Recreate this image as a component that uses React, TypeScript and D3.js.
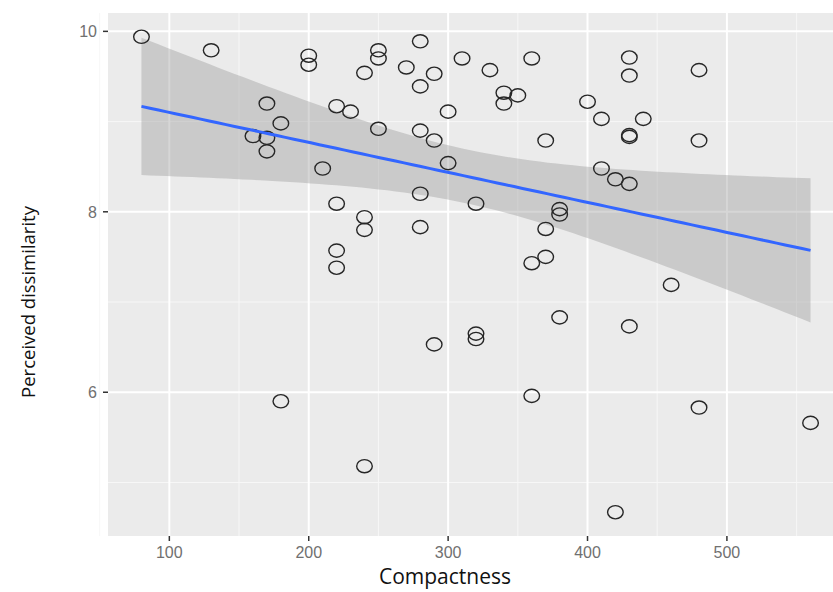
import { useEffect, useRef } from 'react';
import * as d3 from 'd3';

// compactness of each stimulus (x) and its perceived dissimilarity (y)
const compactness = [
  80, 130, 160, 170, 170, 170, 180, 180, 200, 200,
  210, 220, 220, 220, 220, 230, 240, 240, 240, 240,
  250, 250, 250, 270, 280, 280, 280, 280, 280, 290,
  290, 290, 300, 300, 310, 320, 320, 320, 330, 340,
  340, 350, 360, 360, 360, 370, 370, 370, 380, 380,
  380, 400, 410, 410, 420, 420, 430, 430, 430, 430,
  430, 430, 440, 460, 480, 480, 480, 560,
];
const dissimilarity = [
  9.94, 9.79, 8.84, 9.2, 8.82, 8.67, 8.98, 5.9, 9.73, 9.63,
  8.48, 9.17, 8.09, 7.57, 7.38, 9.11, 9.54, 7.94, 7.8, 5.18,
  9.79, 9.7, 8.92, 9.6, 9.89, 9.39, 8.9, 8.2, 7.83, 9.53,
  8.79, 6.53, 9.11, 8.54, 9.7, 8.09, 6.65, 6.59, 9.57, 9.32,
  9.2, 9.29, 9.7, 7.43, 5.96, 8.79, 7.81, 7.5, 8.03, 7.97,
  6.83, 9.22, 9.03, 8.48, 8.36, 4.67, 9.71, 9.51, 8.85, 8.83,
  8.31, 6.73, 9.03, 7.19, 9.57, 8.79, 5.83, 5.66,
];
const xTicks = [100, 200, 300, 400, 500];
const yTicks = [6, 8, 10];

const W = 833;
const H = 592;
const margin = { top: 13, left: 108, bottom: 56 };
const panelRight = 844; // panel runs past the right edge in the reference

function App() {
  const svgRef = useRef<SVGSVGElement>(null);

  useEffect(() => {
    const svg = d3.select(svgRef.current);
    svg.selectAll('*').remove();

    const pts = compactness.map((x, i) => ({ x, y: dissimilarity[i] }));

    // ggplot style 5% expansion
    const [x0, x1] = d3.extent(compactness) as [number, number];
    const [y0, y1] = d3.extent(dissimilarity) as [number, number];
    const dx = (x1 - x0) * 0.05;
    const dy = (y1 - y0) * 0.05;

    const x = d3.scaleLinear().domain([x0 - dx, x1 + dx]).range([margin.left, panelRight]);
    const y = d3.scaleLinear().domain([y0 - dy, y1 + dy]).range([H - margin.bottom, margin.top]);

    // linear fit with 95% confidence band (like geom_smooth(method = "lm"))
    const n = pts.length;
    const mx = d3.mean(compactness)!;
    const my = d3.mean(dissimilarity)!;
    const sxx = d3.sum(pts, d => (d.x - mx) ** 2);
    const sxy = d3.sum(pts, d => (d.x - mx) * (d.y - my));
    const b = sxy / sxx;
    const a = my - b * mx;
    const s = Math.sqrt(d3.sum(pts, d => (d.y - a - b * d.x) ** 2) / (n - 2));
    const t = 1.997;
    const grid = d3.range(80).map(i => x0 + (i * (x1 - x0)) / 79);
    const fit = grid.map(gx => {
      const yh = a + b * gx;
      const se = s * Math.sqrt(1 / n + (gx - mx) ** 2 / sxx);
      return { x: gx, y: yh, lo: yh - t * se, hi: yh + t * se };
    });

    const top = margin.top;
    const bottom = H - margin.bottom;

    svg.append('rect')
      .attr('x', margin.left).attr('y', top)
      .attr('width', panelRight - margin.left).attr('height', bottom - top)
      .attr('fill', '#EBEBEB');

    // minor grid
    const xMinor = xTicks.map(v => v - 50).concat([xTicks[xTicks.length - 1] + 50]);
    const yMinor = [5, 7, 9];
    svg.append('g').selectAll('line').data(xMinor).enter().append('line')
      .attr('x1', d => x(d)).attr('x2', d => x(d)).attr('y1', top).attr('y2', bottom)
      .attr('stroke', '#F7F7F7').attr('stroke-width', 1);
    svg.append('g').selectAll('line').data(yMinor).enter().append('line')
      .attr('x1', margin.left).attr('x2', panelRight).attr('y1', d => y(d)).attr('y2', d => y(d))
      .attr('stroke', '#F7F7F7').attr('stroke-width', 1);

    // major grid
    svg.append('g').selectAll('line').data(xTicks).enter().append('line')
      .attr('x1', d => x(d)).attr('x2', d => x(d)).attr('y1', top).attr('y2', bottom)
      .attr('stroke', '#FFFFFF').attr('stroke-width', 2);
    svg.append('g').selectAll('line').data(yTicks).enter().append('line')
      .attr('x1', margin.left).attr('x2', panelRight).attr('y1', d => y(d)).attr('y2', d => y(d))
      .attr('stroke', '#FFFFFF').attr('stroke-width', 2);

    // band
    const area = d3.area<{ x: number; lo: number; hi: number }>()
      .x(d => x(d.x)).y0(d => y(d.lo)).y1(d => y(d.hi));
    svg.append('path').datum(fit).attr('d', area)
      .attr('fill', '#999999').attr('fill-opacity', 0.4);

    // points
    svg.append('g').selectAll('ellipse').data(pts).enter().append('ellipse')
      .attr('cx', d => x(d.x)).attr('cy', d => y(d.y))
      .attr('rx', 7.8).attr('ry', 6.6)
      .attr('fill', 'none').attr('stroke', '#262626').attr('stroke-width', 1.4);

    // fitted line
    const line = d3.line<{ x: number; y: number }>().x(d => x(d.x)).y(d => y(d.y));
    svg.append('path').datum(fit).attr('d', line)
      .attr('fill', 'none').attr('stroke', '#3366FF').attr('stroke-width', 3);

    // axes
    const tickFont = '"Liberation Sans", Arial, sans-serif';
    const xAxis = svg.append('g');
    xAxis.selectAll('line').data(xTicks).enter().append('line')
      .attr('x1', d => x(d)).attr('x2', d => x(d)).attr('y1', bottom).attr('y2', bottom + 5)
      .attr('stroke', '#333333').attr('stroke-width', 1.5);
    xAxis.selectAll('text').data(xTicks).enter().append('text')
      .attr('x', d => x(d)).attr('y', bottom + 22)
      .attr('text-anchor', 'middle').attr('font-family', tickFont)
      .attr('font-size', 16).attr('fill', '#707070').text(d => d);

    const yAxis = svg.append('g');
    yAxis.selectAll('line').data(yTicks).enter().append('line')
      .attr('x1', margin.left - 5).attr('x2', margin.left).attr('y1', d => y(d)).attr('y2', d => y(d))
      .attr('stroke', '#333333').attr('stroke-width', 1.5);
    yAxis.selectAll('text').data(yTicks).enter().append('text')
      .attr('x', margin.left - 11).attr('y', d => y(d) + 6)
      .attr('text-anchor', 'end').attr('font-family', tickFont)
      .attr('font-size', 16).attr('fill', '#707070').text(d => d);

    svg.append('text')
      .attr('x', 445).attr('y', 584)
      .attr('text-anchor', 'middle').attr('font-family', '"Open Sans", sans-serif')
      .attr('font-size', 21).attr('fill', '#111111').text('Compactness');

    svg.append('text')
      .attr('transform', 'translate(35,302) rotate(-90)')
      .attr('text-anchor', 'middle').attr('font-family', '"Open Sans", sans-serif')
      .attr('font-size', 18.5).attr('fill', '#111111').text('Perceived dissimilarity');
  }, []);

  return (
    <svg
      ref={svgRef}
      width={W}
      height={H}
      style={{ position: 'absolute', left: 0, top: 0, background: '#ffffff' }}
    />
  );
}

export default App;
